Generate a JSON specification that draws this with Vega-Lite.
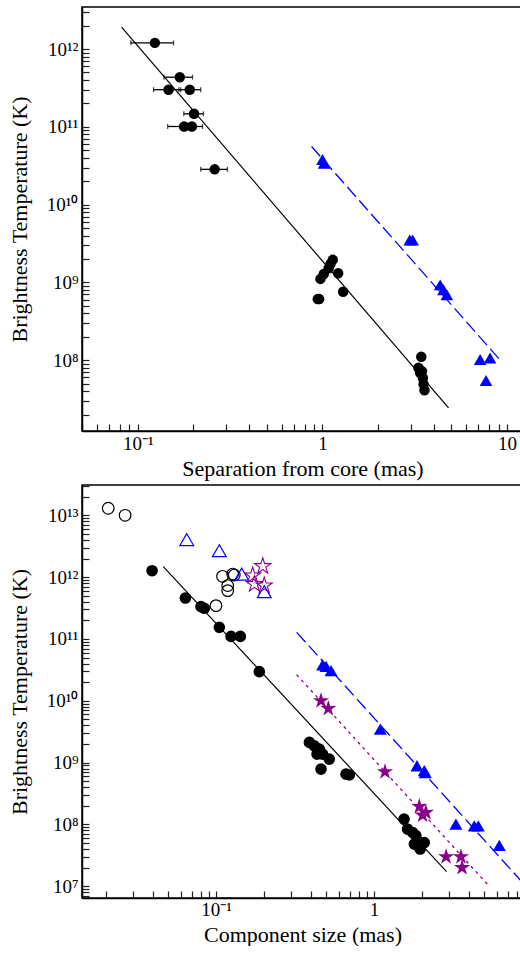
{
  "$schema": "https://vega.github.io/schema/vega-lite/v6.json",
  "background": "white",
  "padding": {"left": 7, "top": 2, "right": 0, "bottom": 0},
  "bounds": "flush",
  "spacing": 54,
  "config": {
    "view": {"stroke": "black", "strokeWidth": 1.5},
    "axis": {
      "grid": false,
      "domainColor": "black",
      "domainWidth": 1.5,
      "tickColor": "#222222",
      "tickWidth": 1.2,
      "tickSize": -7,
      "labelFont": "Liberation Serif",
      "labelFontSize": 19,
      "labelColor": "black",
      "labelOverlap": false,
      "labelFlush": false,
      "labelBound": false,
      "titleFont": "Liberation Serif",
      "titleFontSize": 22,
      "titleFontWeight": "normal",
      "titleColor": "black"
    }
  },
  "datasets": {
    "topCircles": [
      {"x": 0.1236, "y": 1.2e12}, {"x": 0.1687, "y": 4.34e11}, {"x": 0.1466, "y": 3.0e11}, {"x": 0.191, "y": 3.0e11},
      {"x": 0.2014, "y": 1.47e11}, {"x": 0.178, "y": 1.01e11}, {"x": 0.196, "y": 1.01e11}, {"x": 0.2606, "y": 2.84e10},
      {"x": 1.137, "y": 1.95e9}, {"x": 1.105, "y": 1.72e9}, {"x": 1.08, "y": 1.52e9}, {"x": 1.216, "y": 1.31e9},
      {"x": 1.016, "y": 1.28e9}, {"x": 0.975, "y": 1.11e9}, {"x": 1.294, "y": 7.6e8}, {"x": 0.943, "y": 6.1e8},
      {"x": 0.96, "y": 6.1e8},
      {"x": 3.43, "y": 1.11e8}, {"x": 3.31, "y": 8.0e7}, {"x": 3.46, "y": 7.2e7}, {"x": 3.38, "y": 6.9e7},
      {"x": 3.5, "y": 5.9e7}, {"x": 3.53, "y": 4.9e7}, {"x": 3.57, "y": 4.1e7}
    ],
    "topErr": [
      {"y": 1.2e12, "x": 0.0916, "x2": 0.156}, {"y": 4.34e11, "x": 0.1384, "x2": 0.1977},
      {"y": 3.0e11, "x": 0.1216, "x2": 0.1706}, {"y": 3.0e11, "x": 0.1667, "x2": 0.219},
      {"y": 1.47e11, "x": 0.1773, "x2": 0.2265}, {"y": 1.01e11, "x": 0.145, "x2": 0.196},
      {"y": 1.01e11, "x": 0.1773, "x2": 0.224}, {"y": 2.84e10, "x": 0.219, "x2": 0.3055},
      {"y": 6.1e8, "x": 0.9, "x2": 0.95}
    ],
    "topTri": [
      {"x": 1.0, "y": 3.8e10}, {"x": 1.02, "y": 3.4e10}, {"x": 2.97, "y": 3.5e9}, {"x": 3.08, "y": 3.5e9},
      {"x": 4.34, "y": 9.3e8}, {"x": 4.52, "y": 8.05e8}, {"x": 4.72, "y": 6.95e8},
      {"x": 7.15, "y": 1.02e8}, {"x": 8.09, "y": 1.07e8}, {"x": 7.69, "y": 5.5e7}
    ],
    "topFitBlack": [{"x": 0.0816, "y": 1.91e12}, {"x": 4.82, "y": 2.44e7}],
    "topFitBlue": [{"x": 0.873, "y": 5.59e10}, {"x": 9.36, "y": 9.5e7}],
    "botCircFilled": [
      {"x": 0.0394, "y": 1.27e12}, {"x": 0.064, "y": 4.59e11}, {"x": 0.0804, "y": 3.33e11}, {"x": 0.0844, "y": 3.13e11},
      {"x": 0.105, "y": 1.54e11}, {"x": 0.1245, "y": 1.1e11}, {"x": 0.1426, "y": 1.1e11}, {"x": 0.188, "y": 2.96e10},
      {"x": 0.39, "y": 2.12e9}, {"x": 0.419, "y": 1.87e9}, {"x": 0.451, "y": 1.66e9}, {"x": 0.473, "y": 1.37e9},
      {"x": 0.436, "y": 1.37e9}, {"x": 0.521, "y": 1.14e9}, {"x": 0.462, "y": 7.85e8}, {"x": 0.665, "y": 6.5e8},
      {"x": 0.698, "y": 6.3e8},
      {"x": 1.55, "y": 1.22e8}, {"x": 1.63, "y": 8.4e7}, {"x": 1.76, "y": 7.4e7}, {"x": 1.84, "y": 6.6e7},
      {"x": 1.89, "y": 5.4e7}, {"x": 2.08, "y": 5.1e7}, {"x": 1.96, "y": 4.0e7}, {"x": 1.8, "y": 4.8e7}
    ],
    "botCircOpen": [
      {"x": 0.0208, "y": 1.3e13}, {"x": 0.0266, "y": 1.0e13}, {"x": 0.1, "y": 3.46e11}, {"x": 0.11, "y": 1.03e12},
      {"x": 0.1305, "y": 1.08e12}, {"x": 0.1276, "y": 1.12e12}, {"x": 0.1186, "y": 7.3e11}, {"x": 0.1186, "y": 6.05e11}
    ],
    "botTriOpen": [
      {"x": 0.0653, "y": 4.05e12}, {"x": 0.105, "y": 2.68e12}, {"x": 0.1455, "y": 1.12e12}, {"x": 0.202, "y": 5.8e11}
    ],
    "botStarOpen": [
      {"x": 0.1976, "y": 1.5e12}, {"x": 0.1707, "y": 1.06e12}, {"x": 0.175, "y": 7.7e11}, {"x": 0.202, "y": 7.3e11}
    ],
    "botTriFilled": [
      {"x": 0.473, "y": 3.8e10}, {"x": 0.497, "y": 3.6e10}, {"x": 0.535, "y": 3.07e10},
      {"x": 1.096, "y": 3.48e9}, {"x": 1.87, "y": 8.9e8}, {"x": 2.08, "y": 7.4e8}, {"x": 2.11, "y": 6.9e8},
      {"x": 3.3, "y": 1.01e8}, {"x": 4.31, "y": 9.5e7}, {"x": 4.57, "y": 9.5e7}, {"x": 6.21, "y": 4.6e7}
    ],
    "botStarFilled": [
      {"x": 0.462, "y": 1.0e10}, {"x": 0.514, "y": 7.5e9}, {"x": 1.174, "y": 7.1e8},
      {"x": 1.935, "y": 1.95e8}, {"x": 2.13, "y": 1.56e8}, {"x": 2.03, "y": 1.41e8},
      {"x": 2.86, "y": 3.0e7}, {"x": 3.55, "y": 3.0e7}, {"x": 3.61, "y": 2.0e7}
    ],
    "botFitBlack": [{"x": 0.0464, "y": 1.48e12}, {"x": 2.88, "y": 1.73e7}],
    "botFitBlue": [{"x": 0.324, "y": 1.28e11}, {"x": 8.51, "y": 1.23e7}],
    "botFitPurple": [{"x": 0.324, "y": 2.64e10}, {"x": 5.29, "y": 1.04e7}]
  },
  "vconcat": [
    {
      "width": 441,
      "height": 424,
      "encoding": {
        "x": {
          "field": "x", "type": "quantitative",
          "scale": {"type": "log", "domain": [0.0498, 12.2], "nice": false, "zero": false},
          "axis": {
            "title": "Separation from core (mas)",
            "values": [0.05, 0.06, 0.07, 0.08, 0.09, 0.1, 0.2, 0.3, 0.4, 0.5, 0.6, 0.7, 0.8, 0.9, 1, 2, 3, 4, 5, 6, 7, 8, 9, 10],
            "labelExpr": "datum.value == 0.1 ? '10⁻¹' : datum.value == 1 ? '1' : datum.value == 10 ? '10' : ''",
            "labelPadding": 10,
            "titlePadding": 5
          }
        },
        "y": {
          "field": "y", "type": "quantitative",
          "scale": {"type": "log", "domain": [1.23e7, 3.47e12], "nice": false, "zero": false},
          "axis": {
            "title": "Brightness Temperature (K)",
            "values": [2e7, 3e7, 4e7, 5e7, 6e7, 7e7, 8e7, 9e7, 1e8, 2e8, 3e8, 4e8, 5e8, 6e8, 7e8, 8e8, 9e8, 1e9, 2e9, 3e9, 4e9, 5e9, 6e9, 7e9, 8e9, 9e9, 1e10, 2e10, 3e10, 4e10, 5e10, 6e10, 7e10, 8e10, 9e10, 1e11, 2e11, 3e11, 4e11, 5e11, 6e11, 7e11, 8e11, 9e11, 1e12, 2e12, 3e12],
            "labelExpr": "datum.value == 1e8 ? '10⁸' : datum.value == 1e9 ? '10⁹' : datum.value == 1e10 ? '10¹⁰' : datum.value == 1e11 ? '10¹¹' : datum.value == 1e12 ? '10¹²' : ''",
            "labelPadding": 11,
            "titlePadding": 15
          }
        }
      },
      "layer": [
        {"data": {"name": "topFitBlack"}, "mark": {"type": "line", "color": "black", "strokeWidth": 1.2}},
        {"data": {"name": "topFitBlue"}, "mark": {"type": "line", "color": "#0000ff", "strokeWidth": 1.3, "strokeDash": [13, 5]}},
        {
          "data": {"name": "topErr"},
          "mark": {"type": "rule", "color": "black", "strokeWidth": 1.3},
          "encoding": {"x2": {"field": "x2"}}
        },
        {
          "data": {"name": "topErr"},
          "transform": [{"fold": ["x", "x2"], "as": ["end", "x"]}],
          "mark": {"type": "tick", "orient": "vertical", "color": "black", "size": 5, "thickness": 1.3}
        },
        {"data": {"name": "topCircles"}, "mark": {"type": "point", "shape": "circle", "filled": true, "color": "black", "opacity": 1, "size": 110}},
        {"data": {"name": "topTri"}, "mark": {"type": "point", "shape": "triangle-up", "filled": true, "color": "#0000ff", "opacity": 1, "size": 160}}
      ]
    },
    {
      "width": 441,
      "height": 413,
      "encoding": {
        "x": {
          "field": "x", "type": "quantitative",
          "scale": {"type": "log", "domain": [0.01419, 8.77], "nice": false, "zero": false},
          "axis": {
            "title": "Component size (mas)",
            "values": [0.02, 0.03, 0.04, 0.05, 0.06, 0.07, 0.08, 0.09, 0.1, 0.2, 0.3, 0.4, 0.5, 0.6, 0.7, 0.8, 0.9, 1, 2, 3, 4, 5, 6, 7, 8],
            "labelExpr": "datum.value == 0.1 ? '10⁻¹' : datum.value == 1 ? '1' : ''",
            "labelPadding": 9,
            "titlePadding": 5
          }
        },
        "y": {
          "field": "y", "type": "quantitative",
          "scale": {"type": "log", "domain": [6.46e6, 3.09e13], "nice": false, "zero": false},
          "axis": {
            "title": "Brightness Temperature (K)",
            "values": [7e6, 8e6, 9e6, 1e7, 2e7, 3e7, 4e7, 5e7, 6e7, 7e7, 8e7, 9e7, 1e8, 2e8, 3e8, 4e8, 5e8, 6e8, 7e8, 8e8, 9e8, 1e9, 2e9, 3e9, 4e9, 5e9, 6e9, 7e9, 8e9, 9e9, 1e10, 2e10, 3e10, 4e10, 5e10, 6e10, 7e10, 8e10, 9e10, 1e11, 2e11, 3e11, 4e11, 5e11, 6e11, 7e11, 8e11, 9e11, 1e12, 2e12, 3e12, 4e12, 5e12, 6e12, 7e12, 8e12, 9e12, 1e13, 2e13, 3e13],
            "labelExpr": "datum.value == 1e7 ? '10⁷' : datum.value == 1e8 ? '10⁸' : datum.value == 1e9 ? '10⁹' : datum.value == 1e10 ? '10¹⁰' : datum.value == 1e11 ? '10¹¹' : datum.value == 1e12 ? '10¹²' : datum.value == 1e13 ? '10¹³' : ''",
            "labelPadding": 11,
            "titlePadding": 15
          }
        }
      },
      "layer": [
        {"data": {"name": "botFitBlack"}, "mark": {"type": "line", "color": "black", "strokeWidth": 1.2}},
        {"data": {"name": "botFitBlue"}, "mark": {"type": "line", "color": "#0000ff", "strokeWidth": 1.3, "strokeDash": [13, 5]}},
        {"data": {"name": "botFitPurple"}, "mark": {"type": "line", "color": "#8b008b", "strokeWidth": 1.3, "strokeDash": [3, 4]}},
        {"data": {"name": "botCircOpen"}, "mark": {"type": "point", "shape": "circle", "filled": false, "color": "black", "opacity": 1, "strokeWidth": 1.2, "size": 135}},
        {"data": {"name": "botTriOpen"}, "mark": {"type": "point", "shape": "triangle-up", "filled": false, "color": "#0000ff", "opacity": 1, "strokeWidth": 1.2, "size": 190}},
        {"data": {"name": "botStarOpen"}, "mark": {"type": "point", "shape": "M0,-1L0.223,-0.307L0.951,-0.309L0.361,0.117L0.588,0.809L0,0.38L-0.588,0.809L-0.361,0.117L-0.951,-0.309L-0.223,-0.307Z", "filled": false, "color": "#8b008b", "opacity": 1, "strokeWidth": 1.1, "size": 290}},
        {"data": {"name": "botCircFilled"}, "mark": {"type": "point", "shape": "circle", "filled": true, "color": "black", "opacity": 1, "size": 135}},
        {"data": {"name": "botTriFilled"}, "mark": {"type": "point", "shape": "triangle-up", "filled": true, "color": "#0000ff", "opacity": 1, "size": 170}},
        {"data": {"name": "botStarFilled"}, "mark": {"type": "point", "shape": "M0,-1L0.223,-0.307L0.951,-0.309L0.361,0.117L0.588,0.809L0,0.38L-0.588,0.809L-0.361,0.117L-0.951,-0.309L-0.223,-0.307Z", "filled": true, "color": "#8b008b", "opacity": 1, "size": 290}}
      ]
    }
  ]
}
